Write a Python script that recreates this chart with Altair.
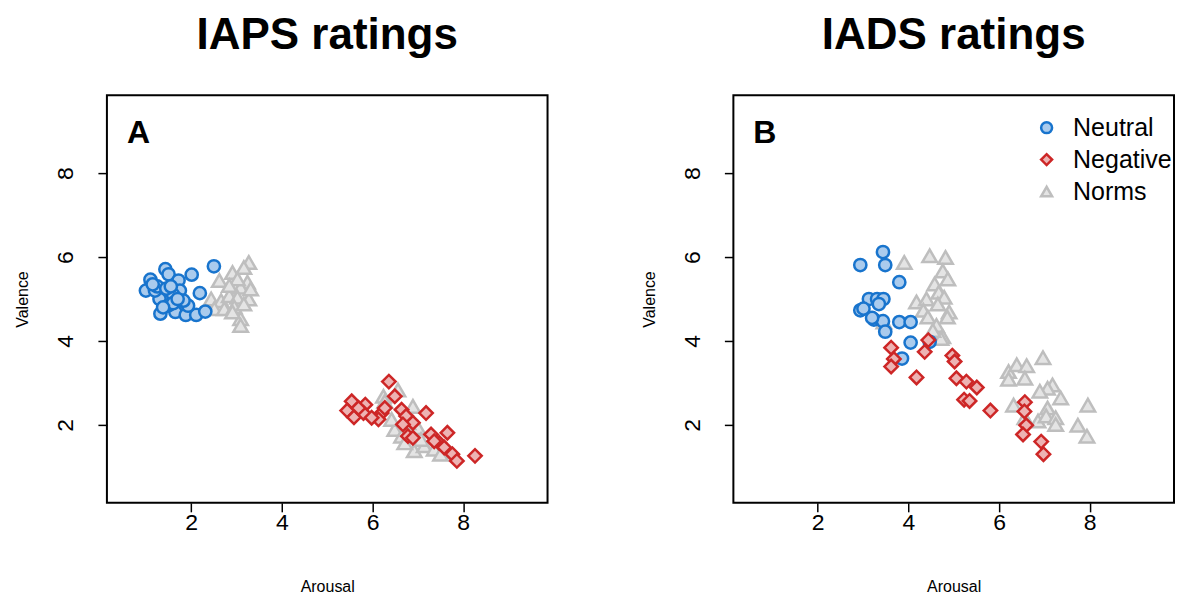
import altair as alt
import pandas as pd

# ---- data ----
groups = ["Neutral", "Negative", "Norms"]
stroke_colors = ["#1874CD", "#CD2626", "#BEBEBE"]
fill_colors = ["#AACBED", "#EDB3B3", "#E4E4E4"]
shapes = ["circle", "diamond", "triangle-up"]
sizes = [150, 210, 190]
x_ticks = [2, 4, 6, 8]
y_ticks = [2, 4, 6, 8]

a_neu_x = [2.50, 2.01, 1.43, 1.50, 1.10, 1.00, 2.19, 1.32, 1.65, 1.88, 2.11, 2.31, 1.72, 1.75, 1.93, 1.83,
           1.35, 1.45, 1.55, 1.40, 1.60, 1.30, 1.50, 1.20, 1.25, 1.60, 1.70, 1.45, 1.55, 1.15, 1.38]
a_neu_y = [5.78, 5.58, 5.71, 5.59, 5.46, 5.20, 5.14, 4.65, 4.69, 4.62, 4.62, 4.70, 5.44, 5.20, 4.84, 4.96,
           5.15, 5.05, 5.00, 4.95, 5.10, 5.00, 4.85, 5.20, 5.30, 4.90, 5.00, 5.25, 5.30, 5.35, 4.80]

a_neg_x = [6.36, 5.54, 5.44, 5.59, 5.84, 5.80, 6.20, 6.49, 6.27, 6.13, 6.64, 6.74, 6.89, 7.18, 6.78, 6.89,
           7.29, 7.65, 7.47, 7.58, 7.76, 7.86, 8.26, 6.67, 7.36, 5.69, 5.98]
a_neg_y = [3.03, 2.56, 2.34, 2.18, 2.48, 2.28, 2.28, 2.68, 2.40, 2.13, 2.36, 2.21, 2.05, 2.28, 1.73, 1.69,
           1.77, 1.81, 1.57, 1.46, 1.30, 1.14, 1.26, 2.01, 1.61, 2.40, 2.17]

a_nrm_x = [3.27, 3.16, 2.91, 2.62, 3.24, 3.09, 2.44, 2.66, 2.84, 3.02, 3.27, 2.51, 2.73, 2.95, 3.16, 3.09,
           3.09, 2.91, 3.31, 3.02, 2.84,
           6.56, 6.24, 6.89, 6.49, 6.64, 6.92, 7.14, 7.00, 6.42, 7.36, 7.07, 6.71, 7.50, 6.27, 6.78]
a_nrm_y = [5.87, 5.75, 5.63, 5.44, 5.40, 5.28, 5.00, 4.96, 5.08, 5.04, 5.00, 4.77, 4.77, 4.81, 4.88, 4.53,
           4.37, 4.69, 5.24, 5.48, 5.32,
           2.83, 2.68, 2.44, 1.89, 1.73, 1.38, 1.50, 1.93, 2.13, 1.42, 1.65, 1.57, 1.30, 2.56, 2.05]

b_neu_x = [3.44, 2.94, 3.49, 3.80, 3.13, 3.31, 3.45, 3.35, 2.94, 3.01, 3.24, 3.44, 3.49, 3.80, 4.05, 4.05,
           4.47, 3.86, 3.20]
b_neu_y = [6.12, 5.81, 5.81, 5.40, 5.00, 5.00, 5.00, 4.88, 4.73, 4.77, 4.51, 4.47, 4.22, 4.45, 4.45, 3.96,
           3.98, 3.58, 4.55]

b_neg_x = [4.44, 4.36, 3.62, 3.68, 3.62, 4.18, 4.97, 5.02, 5.06, 5.28, 5.51, 5.23, 5.35, 5.81, 6.57, 6.56,
           6.60, 6.53, 6.93, 6.98]
b_neg_y = [4.02, 3.74, 3.84, 3.57, 3.39, 3.13, 3.65, 3.51, 3.11, 3.03, 2.89, 2.60, 2.57, 2.34, 2.54, 2.32,
           1.99, 1.77, 1.60, 1.30]

b_nrm_x = [3.91, 4.47, 4.82, 4.76, 4.87, 4.58, 4.67, 4.79, 4.18, 4.40, 4.65, 4.33, 4.43, 4.90, 4.86, 4.62,
           4.76, 3.46, 4.72, 4.54,
           6.97, 6.21, 6.39, 6.61, 6.21, 6.57, 7.18, 7.07, 6.90, 7.36, 6.32, 7.07, 7.96, 6.86, 7.04, 7.25,
           7.25, 7.74, 7.94, 6.57]
b_nrm_y = [5.87, 6.03, 5.99, 5.67, 5.48, 5.36, 5.16, 5.04, 4.93, 5.00, 4.88, 4.73, 4.57, 4.69, 4.57, 4.37,
           4.10, 4.45, 4.06, 4.25,
           3.60, 3.27, 3.43, 3.41, 3.09, 3.11, 2.95, 2.87, 2.80, 2.64, 2.47, 2.40, 2.47, 2.09, 2.21, 2.17,
           2.01, 1.99, 1.73, 2.17]

FONT = "Liberation Sans"
DOMAIN = [0.14, 9.86]
PW, PH = 441, 408


def frame(nx, ny, gx, gy, rx, ry):
    rows = []
    # norms first so they are drawn underneath
    for g, xs, ys, order in (("Norms", rx, ry, 0), ("Neutral", nx, ny, 1), ("Negative", gx, gy, 2)):
        for x, y in zip(xs, ys):
            rows.append({"Arousal": x, "Valence": y, "group": g, "order": order})
    return pd.DataFrame(rows)


def panel(df, title, letter, show_legend):
    if show_legend:
        leg = alt.Legend(title=None, orient="none", legendX=301, legendY=20,
                         labelFont=FONT, labelFontSize=25, labelColor="black",
                         symbolSize=120, symbolStrokeWidth=2.5, rowPadding=6,
                         labelOffset=14, padding=0)
    else:
        leg = None
    pts = alt.Chart(df).mark_point(filled=True, strokeWidth=2.5, opacity=1, fillOpacity=1).encode(
        x=alt.X("Arousal:Q", scale=alt.Scale(domain=DOMAIN, nice=False, zero=False),
                axis=alt.Axis(values=x_ticks, title="Arousal")),
        y=alt.Y("Valence:Q", scale=alt.Scale(domain=DOMAIN, nice=False, zero=False),
                axis=alt.Axis(values=y_ticks, title="Valence")),
        fill=alt.Fill("group:N", scale=alt.Scale(domain=groups, range=fill_colors), legend=leg),
        stroke=alt.Stroke("group:N", scale=alt.Scale(domain=groups, range=stroke_colors), legend=leg),
        shape=alt.Shape("group:N", scale=alt.Scale(domain=groups, range=shapes), legend=leg),
        size=alt.Size("group:N", scale=alt.Scale(domain=groups, range=sizes), legend=None),
        order=alt.Order("order:Q"),
    )
    lab = alt.Chart(pd.DataFrame({"t": [letter]})).mark_text(
        font=FONT, fontSize=32, fontWeight="bold", align="left", baseline="middle", color="black"
    ).encode(text="t:N", x=alt.value(20), y=alt.value(38))
    return alt.layer(pts, lab).properties(
        width=PW, height=PH,
        title=alt.TitleParams(title, font=FONT, fontSize=44, fontWeight="bold", anchor="middle",
                              baseline="bottom", offset=-7, color="black"),
    )


df_a = frame(a_neu_x, a_neu_y, a_neg_x, a_neg_y, a_nrm_x, a_nrm_y)
df_b = frame(b_neu_x, b_neu_y, b_neg_x, b_neg_y, b_nrm_x, b_nrm_y)

chart = alt.hconcat(
    panel(df_a, "IAPS ratings", "A", False),
    panel(df_b, "IADS ratings", "B", True),
    spacing=92,
).resolve_legend(fill="independent", stroke="independent", shape="independent").configure_view(
    stroke="black", strokeWidth=2
).configure_axis(
    grid=False, domain=False, ticks=True, tickColor="black", tickWidth=1.5, tickSize=9,
    labelFont=FONT, labelFontSize=23, labelColor="black",
    titleFont=FONT, titleFontSize=16, titleFontWeight="normal", titleColor="black",
).configure_axisY(
    labelAngle=270, labelAlign="center", labelBaseline="bottom", labelPadding=20, titlePadding=24,
).configure_axisX(
    labelPadding=0, titlePadding=44,
).properties(padding={"left": 6, "top": 5, "right": 0, "bottom": 0})

chart.save("out.html", embed_options={"renderer": "svg", "actions": False})
